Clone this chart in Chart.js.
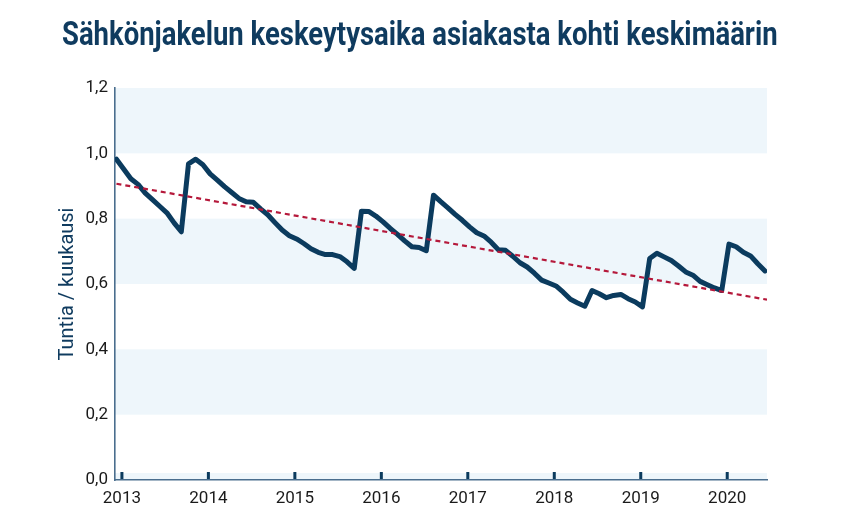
<!DOCTYPE html>
<html lang="fi">
<head>
<meta charset="utf-8">
<title>Sähkönjakelun keskeytysaika</title>
<script src="https://cdn.jsdelivr.net/npm/chart.js@4.4.1/dist/chart.umd.min.js"></script>
<style>
    body { margin: 0; background: #ffffff; }
    .wrap { position: relative; width: 862px; height: 528px; }
    #otsikko {
        position: absolute;
        left: 62px;
        top: 14px;
        margin: 0;
        font-family: 'Liberation Sans Narrow', 'Roboto', sans-serif;
        font-weight: bold;
        font-size: 33px;
        line-height: 40px;
        color: #0f3b5f;
        white-space: nowrap;
        transform-origin: left top;
    }
</style>
</head>
<body>
<div class="wrap">
    <h1 id="otsikko">Sähkönjakelun keskeytysaika asiakasta kohti keskimäärin</h1>
    <canvas id="myChart" width="862" height="528"></canvas>
</div>
<script>

// kuukausittaiset arvot, ensimmäinen joulukuu 2012
const firstYear = 2012;
const firstMonth = 12;
const hours = [
    0.982, 0.952, 0.922, 0.905, 0.878, 0.858, 0.838, 0.818, 0.787, 0.760,
    0.968, 0.982, 0.965, 0.937, 0.918, 0.898, 0.880, 0.862, 0.852, 0.850,
    0.830, 0.812, 0.788, 0.765, 0.748, 0.738, 0.724, 0.708, 0.697, 0.690,
    0.690, 0.684, 0.668, 0.648, 0.823, 0.822, 0.808, 0.790, 0.770, 0.752,
    0.732, 0.714, 0.712, 0.702, 0.872, 0.852, 0.833, 0.813, 0.795, 0.775,
    0.757, 0.747, 0.728, 0.705, 0.703, 0.685, 0.665, 0.652, 0.633, 0.612,
    0.603, 0.594, 0.575, 0.553, 0.542, 0.532, 0.580, 0.570, 0.558, 0.565,
    0.568, 0.555, 0.545, 0.530, 0.678, 0.694, 0.683, 0.672, 0.655, 0.637,
    0.627, 0.608, 0.598, 0.588, 0.580, 0.722, 0.714, 0.697, 0.686, 0.662,
    0.640
];

// trendiviivan alku- ja loppuarvo
const trendValues = [0.907, 0.552];

const yearTicks = [2013, 2014, 2015, 2016, 2017, 2018, 2019, 2020];
const yTicks = [0, 0.2, 0.4, 0.6, 0.8, 1.0, 1.2];

const navy = '#0b3b5e';
const axisColor = '#4a6e8e';
const fontFamily = "'Liberation Sans Narrow', 'Roboto', sans-serif";

// otsikko kapeammaksi niin että se mahtuu samaan leveyteen
const otsikko = document.getElementById('otsikko');
otsikko.style.transform = 'scaleX(' + (716 / otsikko.scrollWidth) + ')';

var points = hours.map(function (v, i) {
    return { x: firstYear + (firstMonth - 1) / 12 + 0.02 + i / 12, y: v };
});
var trend = [
    { x: points[0].x, y: trendValues[0] },
    { x: 2020.46, y: trendValues[1] }
];

// vaaleansiniset vyöhykkeet + pienet vuosimerkit (piirretään ennen akseleita)
const bands = {
    id: 'bands',
    beforeDraw(chart) {
        const ctx = chart.ctx;
        const area = chart.chartArea;
        const y = chart.scales.y;
        const x = chart.scales.x;
        ctx.save();
        ctx.fillStyle = '#eef6fb';
        for (let i = 0; i < yTicks.length - 1; i++) {
            if (i % 2 === 1) {
                const top = y.getPixelForValue(yTicks[i + 1]);
                const bottom = y.getPixelForValue(yTicks[i]);
                ctx.fillRect(area.left, top, area.right - area.left, bottom - top);
            }
        }
        ctx.fillRect(area.left, area.bottom - 7, area.right - area.left, 7);
        ctx.fillStyle = navy;
        yearTicks.forEach(function (yr) {
            const px = x.getPixelForValue(yr);
            ctx.fillRect(px - 1.5, area.bottom - 8, 3, 8);
        });
        ctx.restore();
    }
};

var ctx = document.getElementById('myChart').getContext('2d');

var myChart = new Chart(ctx, {
    type: 'line',
    data: {
        datasets: [{
            label: 'Trendi',
            data: trend,
            borderColor: '#b5193b',
            borderWidth: 2.2,
            borderDash: [5, 4],
            pointRadius: 0,
            fill: false
        }, {
            label: 'Tuntia / kuukausi',
            data: points,
            borderColor: navy,
            borderWidth: 5,
            borderJoinStyle: 'round',
            borderCapStyle: 'round',
            pointRadius: 0,
            tension: 0,
            fill: false
        }]
    },
    options: {
        responsive: false,
        animation: false,
        layout: {
            padding: { top: 88, right: 95, bottom: 0, left: 0 }
        },
        plugins: {
            legend: { display: false },
            tooltip: { enabled: false }
        },
        scales: {
            x: {
                type: 'linear',
                min: 2012.92,
                max: 2020.46,
                grid: { display: false, drawTicks: false },
                border: { display: true, color: axisColor, width: 1.6 },
                afterBuildTicks: function (scale) {
                    scale.ticks = yearTicks.map(function (v) { return { value: v }; });
                },
                afterFit: function (scale) { scale.height = 48; },
                ticks: {
                    padding: 9,
                    color: '#1a1a1a',
                    font: { family: fontFamily, size: 17 },
                    callback: function (v) { return String(v); }
                }
            },
            y: {
                min: 0,
                max: 1.2,
                grid: { display: false, drawTicks: false },
                border: { display: true, color: axisColor, width: 1.6 },
                afterBuildTicks: function (scale) {
                    scale.ticks = yTicks.map(function (v) { return { value: v }; });
                },
                afterFit: function (scale) { scale.width = 115; },
                ticks: {
                    padding: 7,
                    color: '#1a1a1a',
                    font: { family: fontFamily, size: 17 },
                    callback: function (v) { return v.toFixed(1).replace('.', ','); }
                },
                title: {
                    display: true,
                    text: 'Tuntia / kuukausi',
                    color: '#0f3b5f',
                    font: { family: fontFamily, size: 20, weight: 'normal' },
                    padding: { top: 56, bottom: 0 }
                }
            }
        }
    },
    plugins: [bands]
});
</script>
</body>
</html>
